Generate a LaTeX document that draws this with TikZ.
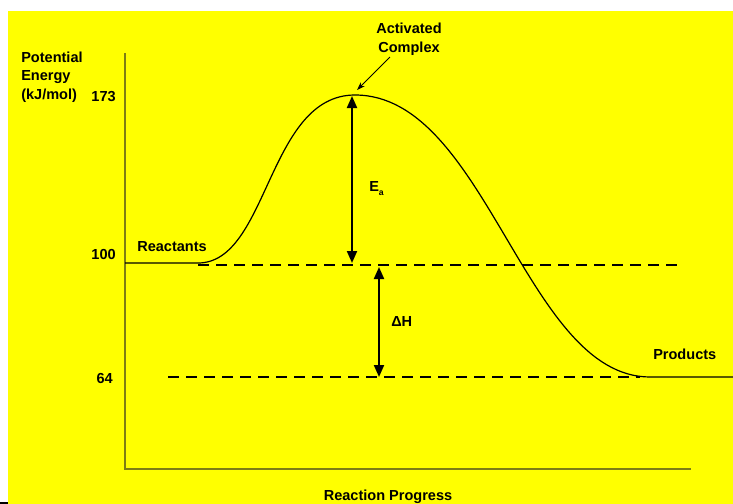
\documentclass[tikz,border=0pt]{standalone}
\usepackage{fontspec}
\setmainfont{Liberation Sans}
\usetikzlibrary{arrows.meta}
\definecolor{bgyellow}{RGB}{255,255,0}
\definecolor{axisolive}{RGB}{125,125,20}
\begin{document}
\begin{tikzpicture}[x=0.75pt,y=-0.75pt,
  lbl/.style={font=\fontsize{10.9}{12}\selectfont\bfseries, inner sep=0pt},
  axisline/.style={draw=axisolive, line width=1.1pt},
  levelline/.style={draw=black, line width=1.9pt, dash pattern=on 8.5pt off 5pt},
  curveline/.style={draw=black, line width=0.9pt},
  dblarrow/.style={draw=black, line width=1.5pt, {Triangle[width=7.5pt,length=9pt]}-{Triangle[width=7.5pt,length=9pt]}},
  ptr/.style={draw=black, line width=0.6pt, -{Stealth[width=4pt,length=6pt]}}]
\useasboundingbox (0,0) rectangle (733,504);
\fill[white] (0,0) rectangle (733,504);
\fill[bgyellow] (8,11) rectangle (733,504);
\fill[black] (0,502) rectangle (8,504);
% axes
\coordinate (ytop) at (125,53);
\coordinate (origin) at (125,469);
\coordinate (xend) at (691,469);
\draw[axisline] (ytop) -- (origin) -- (xend);
% axis title and tick labels
\node[lbl, anchor=base west] (pe1) at (21,62) {Potential};
\node[lbl, anchor=base west] (pe2) at (21,80) {Energy};
\node[lbl, anchor=base west] (pe3) at (21,99) {(kJ/mol)};
\node[lbl, anchor=base east] (t173) at (116,101) {173};
\node[lbl, anchor=base east] (t100) at (116,259) {100};
\node[lbl, anchor=base east] (t64) at (113,383) {64};
\node[lbl, anchor=base] (xlab) at (388,500) {Reaction Progress};
% levels
\coordinate (r0) at (125,263);
\coordinate (r1) at (198,263);
\coordinate (peak) at (355,95);
\coordinate (p0) at (650,377);
\coordinate (p1) at (733,377);
\coordinate (d1a) at (198,265);
\coordinate (d1b) at (680,265);
\coordinate (d2a) at (168,377);
\coordinate (d2b) at (640,377);
\draw[levelline] (d1a) -- (d1b);
\draw[levelline] (d2a) -- (d2b);
% energy curve
\draw[curveline] (r0) -- (r1)
  .. controls (268.6,263) and (267.4,95) .. (peak)
  .. controls (486.4,95) and (525.3,377) .. (p0) -- (p1);
\node[lbl, anchor=base west] (react) at (137,251) {Reactants};
\node[lbl, anchor=base west] (prod) at (653,359) {Products};
% activated complex
\node[lbl, anchor=base] (ac1) at (409,33) {Activated};
\node[lbl, anchor=base] (ac2) at (409,52) {Complex};
\coordinate (acfrom) at (390,57);
\coordinate (acto) at (357,90);
\draw[ptr] (acfrom) -- (acto);
% Ea arrow
\coordinate (eatop) at (352,96);
\coordinate (eabot) at (352,263);
\draw[dblarrow] (eatop) -- (eabot);
\node[lbl, anchor=base west] (ea) at (369,191) {E\raisebox{-0.6ex}{\fontsize{6.5}{6.5}\selectfont a}};
% Delta H arrow
\coordinate (dhtop) at (379,267);
\coordinate (dhbot) at (379,377);
\draw[dblarrow] (dhtop) -- (dhbot);
\node[lbl, anchor=base west] (dh) at (391,326) {ΔH};
\end{tikzpicture}
\end{document}
